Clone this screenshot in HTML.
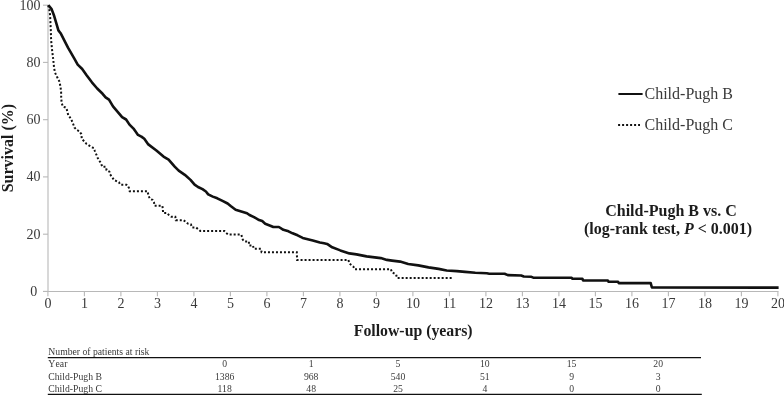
<!DOCTYPE html>
<html><head><meta charset="utf-8"><style>
html,body{margin:0;padding:0;background:#fff;width:784px;height:395px;overflow:hidden}
svg{display:block;will-change:transform}
text{font-family:"Liberation Serif",serif}
</style></head><body>
<svg width="784" height="395" viewBox="0 0 784 395">
<g stroke="#b8b8b8" stroke-width="1.1" fill="none">
<line x1="48" y1="5.3" x2="48" y2="291.5" />
<line x1="43" y1="291.5" x2="778.5" y2="291.5" />
<line x1="43" y1="291.4" x2="48" y2="291.4" />
<line x1="43" y1="234.2" x2="48" y2="234.2" />
<line x1="43" y1="176.9" x2="48" y2="176.9" />
<line x1="43" y1="119.7" x2="48" y2="119.7" />
<line x1="43" y1="62.4" x2="48" y2="62.4" />
<line x1="43" y1="5.2" x2="48" y2="5.2" />
<line x1="47.9" y1="291.5" x2="47.9" y2="296.2" />
<line x1="84.4" y1="291.5" x2="84.4" y2="296.2" />
<line x1="120.9" y1="291.5" x2="120.9" y2="296.2" />
<line x1="157.4" y1="291.5" x2="157.4" y2="296.2" />
<line x1="193.9" y1="291.5" x2="193.9" y2="296.2" />
<line x1="230.4" y1="291.5" x2="230.4" y2="296.2" />
<line x1="266.9" y1="291.5" x2="266.9" y2="296.2" />
<line x1="303.4" y1="291.5" x2="303.4" y2="296.2" />
<line x1="339.9" y1="291.5" x2="339.9" y2="296.2" />
<line x1="376.4" y1="291.5" x2="376.4" y2="296.2" />
<line x1="412.9" y1="291.5" x2="412.9" y2="296.2" />
<line x1="449.4" y1="291.5" x2="449.4" y2="296.2" />
<line x1="485.9" y1="291.5" x2="485.9" y2="296.2" />
<line x1="522.4" y1="291.5" x2="522.4" y2="296.2" />
<line x1="558.9" y1="291.5" x2="558.9" y2="296.2" />
<line x1="595.4" y1="291.5" x2="595.4" y2="296.2" />
<line x1="631.9" y1="291.5" x2="631.9" y2="296.2" />
<line x1="668.4" y1="291.5" x2="668.4" y2="296.2" />
<line x1="704.9" y1="291.5" x2="704.9" y2="296.2" />
<line x1="741.4" y1="291.5" x2="741.4" y2="296.2" />
<line x1="777.9" y1="291.5" x2="777.9" y2="296.2" />
</g>
<g font-size="14" fill="#3a3a3a">
<text x="37.2" y="295.6" text-anchor="end">0</text>
<text x="40.5" y="238.6" text-anchor="end">20</text>
<text x="40.5" y="181.3" text-anchor="end">40</text>
<text x="40.5" y="124.1" text-anchor="end">60</text>
<text x="40.5" y="66.8" text-anchor="end">80</text>
<text x="40.5" y="9.6" text-anchor="end">100</text>
<text x="47.9" y="308.2" text-anchor="middle">0</text>
<text x="84.4" y="308.2" text-anchor="middle">1</text>
<text x="120.9" y="308.2" text-anchor="middle">2</text>
<text x="157.4" y="308.2" text-anchor="middle">3</text>
<text x="193.9" y="308.2" text-anchor="middle">4</text>
<text x="230.4" y="308.2" text-anchor="middle">5</text>
<text x="266.9" y="308.2" text-anchor="middle">6</text>
<text x="303.4" y="308.2" text-anchor="middle">7</text>
<text x="339.9" y="308.2" text-anchor="middle">8</text>
<text x="376.4" y="308.2" text-anchor="middle">9</text>
<text x="412.9" y="308.2" text-anchor="middle">10</text>
<text x="449.4" y="308.2" text-anchor="middle">11</text>
<text x="485.9" y="308.2" text-anchor="middle">12</text>
<text x="522.4" y="308.2" text-anchor="middle">13</text>
<text x="558.9" y="308.2" text-anchor="middle">14</text>
<text x="595.4" y="308.2" text-anchor="middle">15</text>
<text x="631.9" y="308.2" text-anchor="middle">16</text>
<text x="668.4" y="308.2" text-anchor="middle">17</text>
<text x="704.9" y="308.2" text-anchor="middle">18</text>
<text x="741.4" y="308.2" text-anchor="middle">19</text>
<text x="777.9" y="308.2" text-anchor="middle">20</text>
</g>
<text x="13.3" y="148.1" font-size="16" font-weight="bold" fill="#1c1c1c" text-anchor="middle" transform="rotate(-90 13.3 148.1)">Survival (%)</text>
<text x="413.2" y="336" font-size="15.8" font-weight="bold" fill="#1c1c1c" text-anchor="middle">Follow-up (years)</text>
<path d="M48.3,5.3 L49.4,10.0 L50.1,15.2 L50.8,30.4 L51.1,40.0 L52.1,50.1 L53.4,60.9 L54.0,67.1 L54.9,72.4 L57.0,76.8 L59.3,81.3 L60.5,86.6 L61.1,91.9 L61.2,97.2 L61.6,102.6 L62.8,106.5 L65.5,107.5 L66.4,108.2 L67.3,111.4 L68.2,115.0 L70.8,118.5 L72.6,122.4 L74.4,127.4 L76.7,129.9 L79.5,131.3 L81.3,134.1 L81.8,138.9 L84.6,141.7 L86.4,143.8 L89.2,145.6 L91.6,147.3 L93.8,148.0 L94.8,150.8 L97.6,157.7 L99.7,161.2 L101.1,163.3 L102.2,166.8 L105.9,166.8 L106.6,170.3 L109.4,171.7 L110.1,174.4 L112.5,177.6 L114.0,180.1 L116.0,180.9 L118.9,182.2 L120.3,184.7 L126.5,184.7 L127.7,185.4 L129.0,188.2 L129.7,191.2 L147.6,191.2 L148.5,195.8 L150.0,198.9 L152.5,199.9 L154.0,202.4 L154.5,205.8 L162.4,205.8 L162.8,209.1 L163.1,212.9 L166.8,212.9 L168.9,215.0 L171.3,216.7 L175.3,216.7 L175.8,220.2 L183.4,220.2 L185.7,221.8 L187.9,223.7 L190.9,224.4 L192.0,227.4 L196.0,227.4 L198.2,229.2 L200.3,230.9 L224.3,230.9 L226.0,232.8 L228.3,234.6 L241.3,234.6 L242.8,239.7 L245.0,241.6 L248.9,241.6 L249.0,245.4 L252.9,245.4 L253.8,248.8 L261.0,248.8 L261.6,252.2 L296.8,252.2 L297.1,259.9 L348.4,259.9 L349.4,263.5 L353.4,266.6 L354.5,269.2 L390.9,269.2 L391.9,272.2 L396.1,274.5 L397.1,278.0 L452.8,278.0" fill="none" stroke="#111" stroke-width="2" stroke-dasharray="2 2" />
<path d="M48.3,5.3 L49.3,6.2 L51.6,9.1 L53.9,15.2 L56.2,22.8 L58.4,30.4 L60.6,33.2 L65.3,42.4 L68.0,47.7 L70.6,52.2 L74.2,58.4 L77.7,64.6 L82.2,69.0 L86.6,75.2 L91.9,82.3 L97.2,88.5 L102.6,93.8 L105.6,97.3 L109.0,99.6 L113.0,106.4 L116.4,110.4 L122.1,117.2 L126.1,119.5 L129.5,124.6 L133.5,128.6 L138.0,134.9 L141.4,136.6 L144.3,138.8 L148.3,144.4 L156.4,150.5 L163.5,156.6 L168.6,159.6 L174.7,166.7 L178.7,170.7 L184.8,174.8 L190.5,179.9 L194.6,184.7 L198.0,187.0 L202.5,189.2 L205.9,191.5 L208.2,194.4 L212.8,196.6 L217.3,198.3 L223.0,201.2 L227.6,203.5 L231.0,206.3 L235.6,209.7 L241.3,211.4 L247.0,213.2 L249.5,215.0 L254.0,217.1 L259.1,220.1 L262.2,221.1 L265.2,223.7 L270.3,225.7 L273.3,227.0 L278.9,227.0 L283.4,229.8 L288.5,231.3 L292.6,233.3 L297.6,235.3 L302.7,237.9 L306.7,238.9 L312.8,240.4 L319.9,242.4 L324.1,243.3 L327.1,243.9 L332.2,247.3 L340.3,250.4 L349.4,253.4 L356.5,254.4 L366.6,256.4 L374.7,257.4 L380.8,258.1 L386.9,259.9 L392.0,260.6 L400.1,261.6 L408.2,264.0 L418.3,265.4 L428.5,267.4 L438.6,268.9 L446.7,270.5 L456.8,271.1 L465.1,271.9 L475.3,272.7 L486.8,273.2 L489.3,273.7 L504.6,273.7 L507.8,275.1 L521.2,275.5 L523.8,276.5 L531.4,276.8 L533.3,277.7 L571.6,277.7 L572.2,278.7 L582.4,278.7 L583.1,280.5 L607.9,280.5 L608.6,281.8 L618.1,281.8 L618.8,283.1 L650.7,283.1 L651.9,287.5 L778.6,287.6" fill="none" stroke="#111" stroke-width="2.6" stroke-linejoin="round" />
<line x1="618.4" y1="94" x2="642.6" y2="94" stroke="#111" stroke-width="2"/>
<line x1="618.1" y1="125" x2="640" y2="125" stroke="#111" stroke-width="2" stroke-dasharray="2 2"/>
<g font-size="16" fill="#3a3a3a">
<text x="644.5" y="98.6">Child-Pugh B</text>
<text x="644.5" y="129.8">Child-Pugh C</text>
</g>
<g font-size="16" font-weight="bold" text-anchor="middle" fill="#1c1c1c">
<text x="671" y="215.7">Child-Pugh B vs. C</text>
<text x="668" y="234.4">(log-rank test, <tspan font-style="italic">P</tspan> &lt; 0.001)</text>
</g>
<g font-size="9.7" fill="#3a3a3a">
<text x="48.3" y="354.6">Number of patients at risk</text>
<text x="48.3" y="367">Y<tspan dx="1.2">ear</tspan></text>
<text x="224.7" y="367" text-anchor="middle">0</text>
<text x="311.2" y="367" text-anchor="middle">1</text>
<text x="398" y="367" text-anchor="middle">5</text>
<text x="484.8" y="367" text-anchor="middle">10</text>
<text x="571.6" y="367" text-anchor="middle">15</text>
<text x="658.2" y="367" text-anchor="middle">20</text>
<text x="48.3" y="379.5">Child-Pugh B</text>
<text x="224.7" y="379.5" text-anchor="middle">1386</text>
<text x="311.2" y="379.5" text-anchor="middle">968</text>
<text x="398" y="379.5" text-anchor="middle">540</text>
<text x="484.8" y="379.5" text-anchor="middle">51</text>
<text x="571.6" y="379.5" text-anchor="middle">9</text>
<text x="658.2" y="379.5" text-anchor="middle">3</text>
<text x="48.3" y="391.8">Child-Pugh C</text>
<text x="224.7" y="391.8" text-anchor="middle">118</text>
<text x="311.2" y="391.8" text-anchor="middle">48</text>
<text x="398" y="391.8" text-anchor="middle">25</text>
<text x="484.8" y="391.8" text-anchor="middle">4</text>
<text x="571.6" y="391.8" text-anchor="middle">0</text>
<text x="658.2" y="391.8" text-anchor="middle">0</text>
</g>
<line x1="47.8" y1="357.6" x2="701" y2="357.6" stroke="#111" stroke-width="1.2"/>
<line x1="47.8" y1="394.5" x2="701.8" y2="394.5" stroke="#111" stroke-width="1.6"/>
</svg>
</body></html>
